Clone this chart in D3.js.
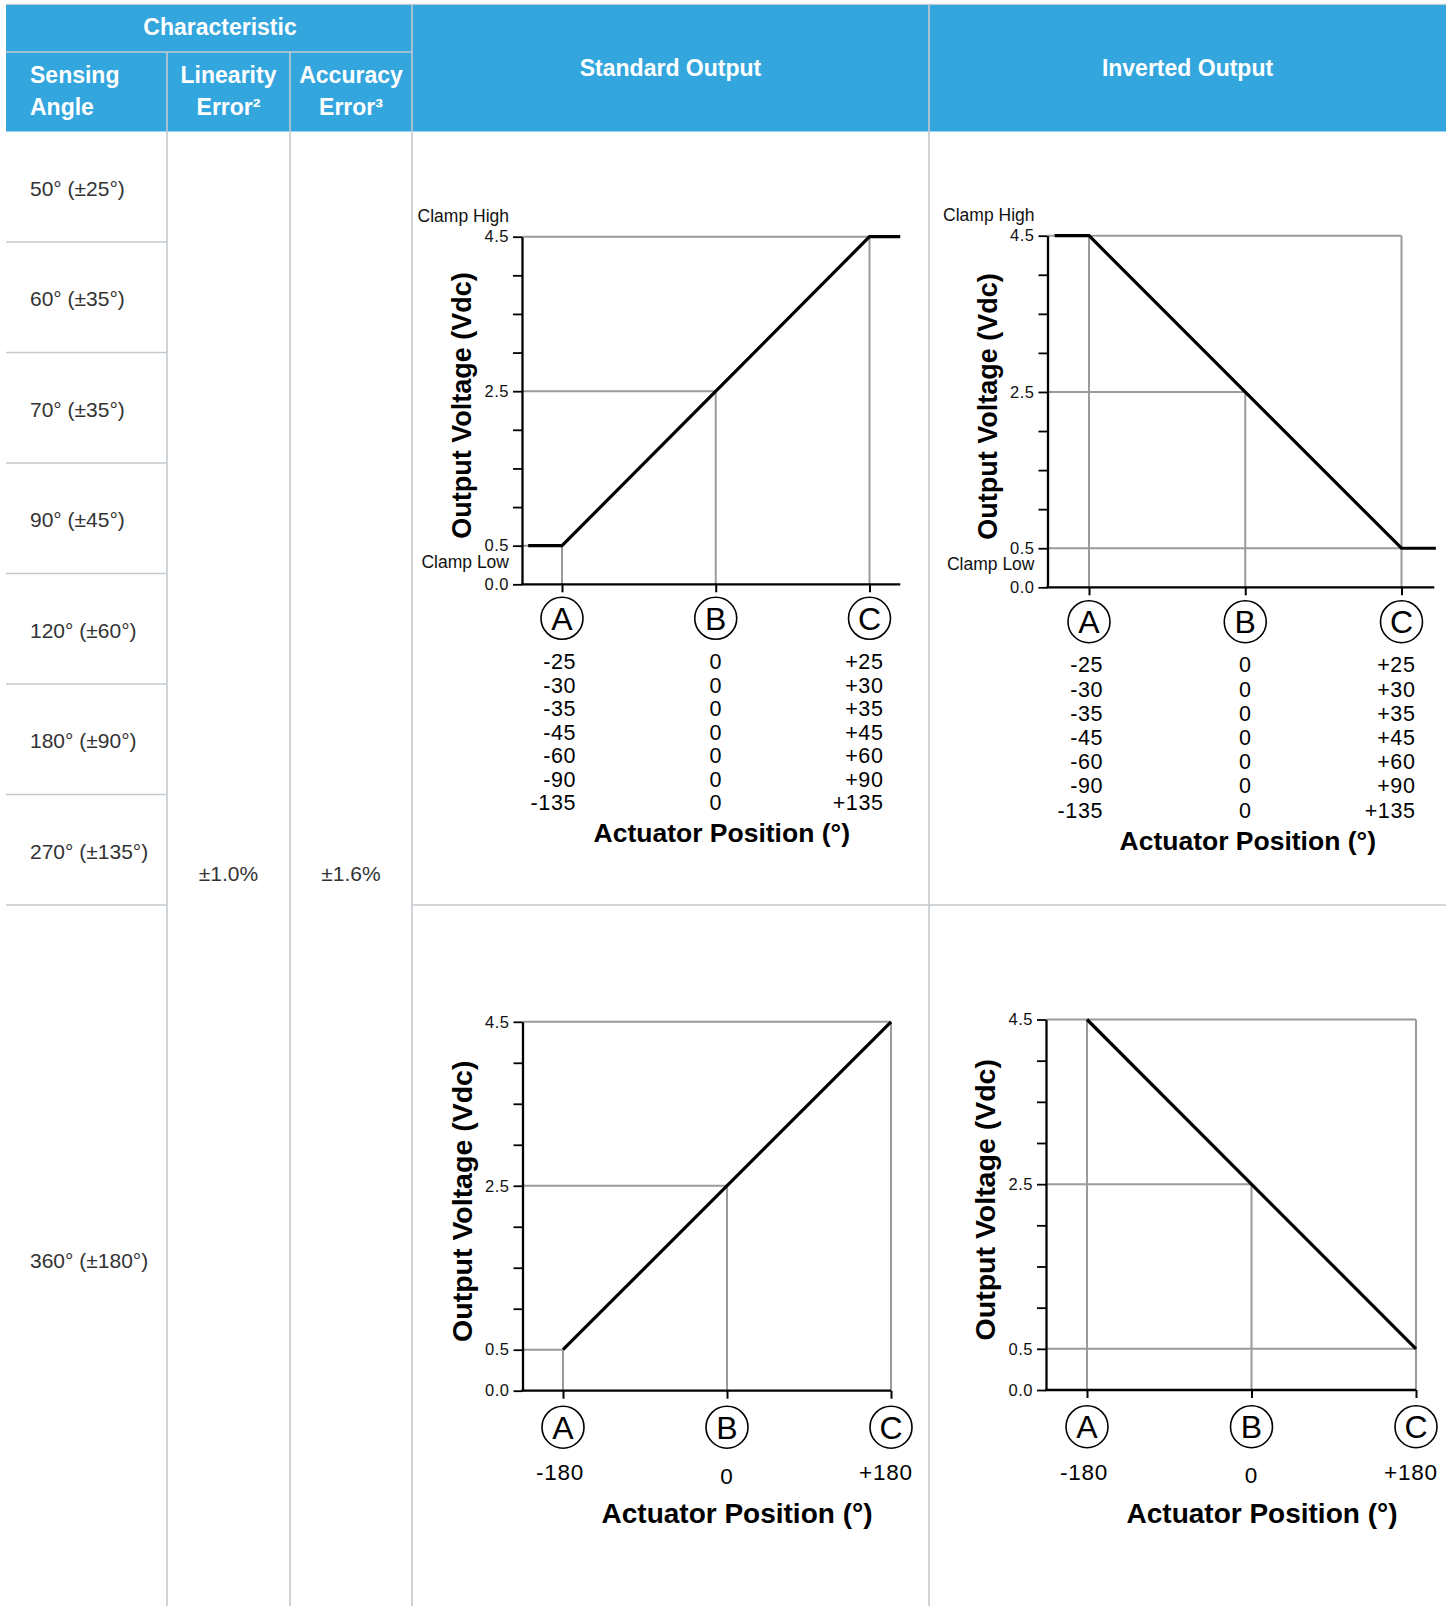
<!DOCTYPE html>
<html>
<head>
<meta charset="utf-8">
<script src="https://cdn.jsdelivr.net/npm/d3@7"></script>
<style>
body { margin: 0; background: #fff; }
text { font-family: "Liberation Sans", Arial, Helvetica, sans-serif; }
</style>
</head>
<body>
<div class="chart"></div>
<script>
// DATA ---------------------------------

const headerTop = ["Characteristic", "Standard Output", "Inverted Output"];
const headerSub = [["Sensing", "Angle"], ["Linearity", "Error²"], ["Accuracy", "Error³"]];
const sensingAngles = ["50° (±25°)", "60° (±35°)", "70° (±35°)", "90° (±45°)",
    "120° (±60°)", "180° (±90°)", "270° (±135°)", "360° (±180°)"];
const linearityError = "±1.0%";
const accuracyError = "±1.6%";

// actuator positions printed under points A, B, C
const posA = ["-25", "-30", "-35", "-45", "-60", "-90", "-135"];
const posB = ["0", "0", "0", "0", "0", "0", "0"];
const posC = ["+25", "+30", "+35", "+45", "+60", "+90", "+135"];
const fullPos = ["-180", "0", "+180"];

const pointNames = ["A", "B", "C"];
const pointPos = [-1, 0, 1];          // A, B, C on a normalised actuator axis
const voltTicks = [0, 0.5, 1, 1.5, 2, 2.5, 3, 3.5, 4, 4.5];
const voltLabels = [0, 0.5, 2.5, 4.5];

// [position, voltage]
const standardClamped = [[-1.22, 0.5], [-1, 0.5], [1, 4.5], [1.2, 4.5]];
const invertedClamped = [[-1.22, 4.5], [-1, 4.5], [1, 0.5], [1.22, 0.5]];
const standardFull = [[-1, 0.5], [1, 4.5]];
const invertedFull = [[-1, 4.5], [1, 0.5]];

// grey guides: h = [voltage, end position], v = [position, top voltage]
const standardGuides = {h: [[0.5, -1], [2.5, 0], [4.5, 1]], v: [[-1, 0.5], [0, 2.5], [1, 4.5]]};
const invertedGuides = {h: [[4.5, 1], [2.5, 0], [0.5, 1]], v: [[-1, 4.5], [0, 2.5], [1, 4.5]]};

// LAYOUT -------------------------------

const W = 1452, H = 1606;
const blue = '#34a6de';
const rule = '#c4cad0';
const guideGrey = '#9b9b9b';
const cols = [6, 167, 290, 412, 929, 1446];
const headTop = 5, headMid = 52, headBottom = 131.5, rowH = 110.5;
const lastRowBottom = 1613;

const svg = d3.select('.chart')
    .append('svg')
    .attr('width', W)
    .attr('height', H);

svg.append('rect')
    .attr('width', W)
    .attr('height', H)
    .attr('fill', '#fff');

// TABLE --------------------------------

const table = svg.append('g').attr('class', 'table');

table.append('line')
    .attr('x1', cols[0]).attr('x2', cols[5])
    .attr('y1', headTop - 0.5).attr('y2', headTop - 0.5)
    .attr('stroke', rule).attr('stroke-width', 1.5);

table.append('rect')
    .attr('x', cols[0])
    .attr('y', headTop)
    .attr('width', cols[5] - cols[0])
    .attr('height', headBottom - headTop)
    .attr('fill', blue);

// header separators
table.append('line')
    .attr('x1', cols[0]).attr('x2', cols[3])
    .attr('y1', headMid).attr('y2', headMid)
    .attr('stroke', rule).attr('stroke-width', 1.5);

[cols[1], cols[2]].forEach(cx => {
    table.append('line')
        .attr('x1', cx).attr('x2', cx)
        .attr('y1', headMid).attr('y2', H)
        .attr('stroke', rule).attr('stroke-width', 1.6);
});
[cols[3], cols[4]].forEach(cx => {
    table.append('line')
        .attr('x1', cx).attr('x2', cx)
        .attr('y1', headTop).attr('y2', H)
        .attr('stroke', rule).attr('stroke-width', 1.6);
});

// row boundaries
const rowTops = sensingAngles.map((d, i) => headBottom + i * rowH);
const rowBottoms = rowTops.map((t, i) => i < sensingAngles.length - 1 ? t + rowH : lastRowBottom);

table.selectAll('.row-line')
    .data(rowBottoms.slice(0, -1))
    .enter()
    .append('line')
    .attr('x1', cols[0]).attr('x2', cols[1])
    .attr('y1', d => d).attr('y2', d => d)
    .attr('stroke', rule).attr('stroke-width', 1.6);

// divider between the two chart rows
table.append('line')
    .attr('x1', cols[3]).attr('x2', cols[5])
    .attr('y1', rowBottoms[6]).attr('y2', rowBottoms[6])
    .attr('stroke', rule).attr('stroke-width', 1.6);

// header text
const headText = table.append('g')
    .attr('fill', '#fff')
    .attr('font-weight', 'bold')
    .attr('font-size', 23);

headText.append('text')
    .attr('x', (cols[0] + cols[3]) / 2 + 11)
    .attr('y', 35)
    .attr('text-anchor', 'middle')
    .text(headerTop[0]);

headText.append('text')
    .attr('x', (cols[3] + cols[4]) / 2)
    .attr('y', 76)
    .attr('text-anchor', 'middle')
    .text(headerTop[1]);

headText.append('text')
    .attr('x', (cols[4] + cols[5]) / 2)
    .attr('y', 76)
    .attr('text-anchor', 'middle')
    .text(headerTop[2]);

headerSub.forEach((lines, i) => {
    const left = i === 0;
    lines.forEach((t, j) => {
        headText.append('text')
            .attr('x', left ? cols[0] + 24 : (cols[i] + cols[i + 1]) / 2)
            .attr('y', 83 + j * 32)
            .attr('text-anchor', left ? 'start' : 'middle')
            .text(t);
    });
});

// body text
const bodyText = table.append('g')
    .attr('fill', '#333')
    .attr('font-size', 21);

bodyText.selectAll('.angle')
    .data(sensingAngles)
    .enter()
    .append('text')
    .attr('x', cols[0] + 24)
    .attr('y', (d, i) => (rowTops[i] + rowBottoms[i]) / 2 + 9)
    .text(d => d);

const mergedMid = (headBottom + lastRowBottom) / 2 + 9;
bodyText.append('text')
    .attr('x', (cols[1] + cols[2]) / 2)
    .attr('y', mergedMid)
    .attr('text-anchor', 'middle')
    .text(linearityError);
bodyText.append('text')
    .attr('x', (cols[2] + cols[3]) / 2)
    .attr('y', mergedMid)
    .attr('text-anchor', 'middle')
    .text(accuracyError);

// CHARTS -------------------------------

const panels = [
    {line: standardClamped, guides: standardGuides, clamp: true, labels: 'table',
     x0: 522, xA: 562, xC: 869.5, xEnd: 1.2, y0: 584.3, yTop: 236.7,
     circleDy: 34, rowStep: 23.45, titleDx: 6, titleDy: 257.5, titleSize: 26.5, yTitleSize: 27},
    {line: invertedClamped, guides: invertedGuides, clamp: true, labels: 'table',
     x0: 1047.5, xA: 1089, xC: 1401.5, xEnd: 1.21, y0: 587.3, yTop: 235.7,
     circleDy: 34.4, rowStep: 24.2, titleDx: 2.5, titleDy: 262.7, titleSize: 26.5, yTitleSize: 27},
    {line: standardFull, guides: standardGuides, clamp: false, labels: 'full',
     x0: 522.5, xA: 563, xC: 891, xEnd: 1, y0: 1390.7, yTop: 1021.8,
     circleDy: 36.5, titleDx: 10, titleDy: 132.6, titleSize: 28, yTitleSize: 28.5},
    {line: invertedFull, guides: invertedGuides, clamp: false, labels: 'full',
     x0: 1046, xA: 1087, xC: 1416, xEnd: 1, y0: 1390, yTop: 1019.5,
     circleDy: 36.7, titleDx: 10.5, titleDy: 133, titleSize: 28, yTitleSize: 28.5}
];

function drawPanel(p) {
    const g = svg.append('g').attr('class', 'panel');

    const x = d3.scaleLinear().domain([-1, 1]).range([p.xA, p.xC]);
    const y = d3.scaleLinear().domain([0, 4.5]).range([p.y0, p.yTop]);

    // grey guides
    g.selectAll('.hguide')
        .data(p.guides.h)
        .enter()
        .append('line')
        .attr('x1', p.x0)
        .attr('x2', d => x(d[1]))
        .attr('y1', d => y(d[0]))
        .attr('y2', d => y(d[0]))
        .attr('stroke', guideGrey)
        .attr('stroke-width', 2);

    g.selectAll('.vguide')
        .data(p.guides.v)
        .enter()
        .append('line')
        .attr('x1', d => x(d[0]))
        .attr('x2', d => x(d[0]))
        .attr('y1', d => y(d[1]))
        .attr('y2', y(0))
        .attr('stroke', guideGrey)
        .attr('stroke-width', 2);

    // y axis
    const yAxis = d3.axisLeft(y)
        .tickValues(voltTicks)
        .tickSize(9)
        .tickSizeOuter(0)
        .tickPadding(4)
        .tickFormat(d => voltLabels.includes(d) ? d3.format('.1f')(d) : '');

    const ya = g.append('g')
        .attr('class', 'axis y-axis')
        .attr('transform', `translate(${p.x0},0)`)
        .call(yAxis)
        .attr('font-family', '"Liberation Sans", Arial, sans-serif')
        .attr('font-size', 16.5);
    ya.select('.domain').attr('stroke', '#000').attr('stroke-width', 2.3);
    ya.selectAll('.tick line').attr('stroke', '#000').attr('stroke-width', 1.8);
    ya.selectAll('.tick text').attr('fill', '#111').attr('letter-spacing', 0.5);

    // x axis
    const xAxis = d3.axisBottom(x)
        .tickValues(pointPos)
        .tickSize(8)
        .tickFormat('');

    const xa = g.append('g')
        .attr('class', 'axis x-axis')
        .attr('transform', `translate(0,${p.y0})`)
        .call(xAxis);
    xa.select('.domain').remove();
    xa.selectAll('.tick line').attr('stroke', '#000').attr('stroke-width', 2);

    g.append('line')
        .attr('x1', p.x0 - 1)
        .attr('x2', x(p.xEnd))
        .attr('y1', y(0))
        .attr('y2', y(0))
        .attr('stroke', '#000')
        .attr('stroke-width', 2.3);

    // output curve
    const line = d3.line()
        .x(d => x(d[0]))
        .y(d => y(d[1]));

    g.append('path')
        .datum(p.line)
        .attr('d', line)
        .attr('fill', 'none')
        .attr('stroke', '#000')
        .attr('stroke-width', 3.2);

    // clamp labels
    if (p.clamp) {
        g.append('text')
            .attr('x', p.x0 - 13)
            .attr('y', y(4.5) - 14.5)
            .attr('text-anchor', 'end')
            .attr('font-size', 17.5)
            .attr('fill', '#111')
            .text('Clamp High');
        g.append('text')
            .attr('x', p.x0 - 13)
            .attr('y', y(0.5) + 22)
            .attr('text-anchor', 'end')
            .attr('font-size', 17.5)
            .attr('fill', '#111')
            .text('Clamp Low');
    }

    // A / B / C markers
    const marks = g.selectAll('.marker')
        .data(pointNames)
        .enter()
        .append('g')
        .attr('transform', (d, i) => `translate(${x(pointPos[i])},${p.y0 + p.circleDy})`);
    marks.append('circle')
        .attr('r', 21)
        .attr('fill', '#fff')
        .attr('stroke', '#000')
        .attr('stroke-width', 1.6);
    marks.append('text')
        .attr('text-anchor', 'middle')
        .attr('dy', '0.36em')
        .attr('font-size', 32)
        .attr('fill', '#000')
        .text(d => d);

    // position values
    if (p.labels === 'table') {
        const cols3 = [posA, posB, posC];
        cols3.forEach((vals, c) => {
            g.selectAll('.pos' + c)
                .data(vals)
                .enter()
                .append('text')
                .attr('x', x(pointPos[c]) + (c === 1 ? 0 : 14))
                .attr('y', (d, i) => p.y0 + 85 + i * p.rowStep)
                .attr('text-anchor', c === 1 ? 'middle' : 'end')
                .attr('font-size', 21.5)
                .attr('letter-spacing', 0.6)
                .attr('fill', '#000')
                .text(d => d);
        });
    } else {
        const shift = [-3, 0, -5];
        g.selectAll('.pos')
            .data(fullPos)
            .enter()
            .append('text')
            .attr('x', (d, i) => x(pointPos[i]) + shift[i])
            .attr('y', (d, i) => p.y0 + (i === 1 ? 93 : 89.5))
            .attr('text-anchor', 'middle')
            .attr('font-size', 22.5)
            .attr('letter-spacing', 0.8)
            .attr('fill', '#000')
            .text(d => d);
    }

    // axis titles
    g.append('text')
        .attr('x', x(0) + p.titleDx)
        .attr('y', p.y0 + p.titleDy)
        .attr('text-anchor', 'middle')
        .attr('font-weight', 'bold')
        .attr('font-size', p.titleSize)
        .attr('fill', '#000')
        .text('Actuator Position (°)');

    g.append('text')
        .attr('transform', `translate(${p.x0 - 51},${(p.y0 + p.yTop) / 2 - 5}) rotate(-90)`)
        .attr('text-anchor', 'middle')
        .attr('font-weight', 'bold')
        .attr('font-size', p.yTitleSize)
        .attr('fill', '#000')
        .text('Output Voltage (Vdc)');
}

panels.forEach(drawPanel);
</script>
</body>
</html>
